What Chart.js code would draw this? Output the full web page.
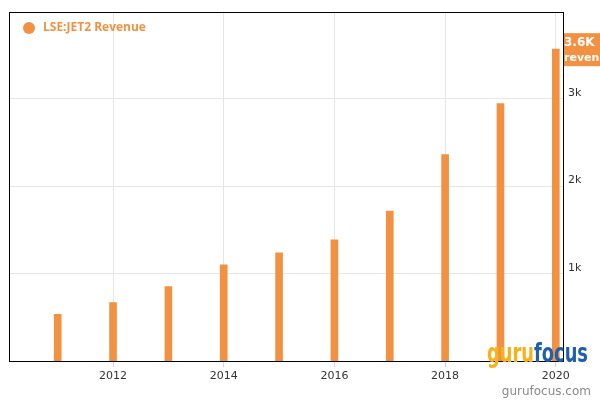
<!DOCTYPE html>
<html>
<head>
<meta charset="utf-8">
<script src="https://cdn.jsdelivr.net/npm/chart.js@4/dist/chart.umd.min.js"></script>
<style>
  html, body { margin: 0; padding: 0; background: #fff; }
  #wrap { width: 600px; height: 400px; }
</style>
</head>
<body>
<div id="wrap"><canvas id="chart" width="600" height="400"></canvas></div>
<script>
// Datos del gráfico
const years = [2011, 2012, 2013, 2014, 2015, 2016, 2017, 2018, 2019, 2020];
const revenue = [534, 670, 852, 1100, 1239, 1386, 1716, 2364, 2947, 3570];
const xTicks = [2012, 2014, 2016, 2018, 2020];
const yTicks = [1000, 2000, 3000];
const seriesName = "LSE:JET2 Revenue";
const badgeText = ["3.6K", "revenue"];

const orange = "#f39143";

// Borde negro, leyenda, etiqueta y marca de agua
const extras = {
  id: "extras",
  beforeDatasetsDraw(chart) {
    const { ctx, chartArea: a } = chart;
    ctx.save();
    ctx.strokeStyle = "#000";
    ctx.lineWidth = 1;
    ctx.strokeRect(Math.round(a.left) + 0.5, Math.round(a.top) + 0.5,
      Math.round(a.right - a.left), Math.round(a.bottom - a.top));
    ctx.restore();
  },
  afterDraw(chart) {
    const { ctx, chartArea: a, scales } = chart;
    ctx.save();
    // leyenda
    ctx.fillStyle = orange;
    ctx.beginPath();
    ctx.arc(29, 28, 6, 0, Math.PI * 2);
    ctx.fill();
    ctx.font = "bold 12px 'Open Sans', sans-serif";
    ctx.textBaseline = "middle";
    ctx.fillText(seriesName, 43, 28);

    // etiqueta del último valor
    const yLast = scales.y.getPixelForValue(revenue[revenue.length - 1]);
    ctx.fillStyle = orange;
    ctx.fillRect(a.right + 1, yLast - 16, 40, 33);
    ctx.fillStyle = "#fff";
    ctx.font = "bold 12px 'DejaVu Sans', sans-serif";
    ctx.textBaseline = "middle";
    ctx.fillText(badgeText[0], a.right + 1, yLast - 6);
    ctx.font = "bold 11px 'DejaVu Sans', sans-serif";
    ctx.fillText(badgeText[1], a.right + 1, yLast + 9);

    // marca de agua (comprimida a ~100px de ancho)
    ctx.font = "bold 26px 'DejaVu Sans Condensed', sans-serif";
    ctx.textBaseline = "alphabetic";
    const wg = ctx.measureText("guru").width;
    const wf = ctx.measureText("focus").width;
    const k = 101 / (wg + wf);
    ctx.translate(487, 362);
    ctx.scale(k, 1);
    ctx.fillStyle = "#f7b21a";
    ctx.fillText("guru", 0, 0);
    ctx.fillStyle = "#1f5fae";
    ctx.fillText("focus", wg, 0);
    ctx.setTransform(1, 0, 0, 1, 0, 0);

    ctx.font = "12px 'DejaVu Sans', sans-serif";
    ctx.fillStyle = "#8a8a8a";
    ctx.textAlign = "right";
    ctx.fillText("gurufocus.com", 591, 395);
    ctx.restore();
  }
};

const ctx = document.getElementById("chart").getContext("2d");
const chart = new Chart(ctx, {
  type: "bar",
  data: {
    datasets: [{
      label: seriesName,
      data: years.map((y, i) => ({ x: y, y: revenue[i] })),
      backgroundColor: orange,
      borderWidth: 0,
      barThickness: 7
    }]
  },
  options: {
    responsive: false,
    animation: false,
    layout: { padding: { left: 9, top: 10, right: 0, bottom: 0 } },
    plugins: {
      legend: { display: false },
      tooltip: { enabled: false }
    },
    scales: {
      x: {
        type: "linear",
        offset: false,
        min: 2010.12,
        max: 2020.13,
        afterBuildTicks: (s) => { s.ticks = xTicks.map(v => ({ value: v })); },
        afterFit: (s) => { s.height = 39; },
        border: { display: false },
        grid: {
          color: "#e6e6e6",
          tickColor: "#c8d4e4",
          tickLength: 6,
          offset: false
        },
        ticks: {
          color: "#333",
          font: { family: "'DejaVu Sans', sans-serif", size: 11 },
          padding: 3,
          maxRotation: 0,
          callback: (v) => String(v)
        }
      },
      y: {
        position: "right",
        min: 0,
        max: 4000,
        afterBuildTicks: (s) => { s.ticks = yTicks.map(v => ({ value: v })); },
        afterFit: (s) => { s.width = 37; },
        border: { display: false },
        grid: { color: "#e6e6e6", drawTicks: false },
        ticks: {
          color: "#333",
          font: { family: "'DejaVu Sans', sans-serif", size: 11 },
          padding: 5,
          labelOffset: -6,
          callback: (v) => (v / 1000) + "k"
        }
      }
    }
  },
  plugins: [extras]
});
</script>
</body>
</html>
